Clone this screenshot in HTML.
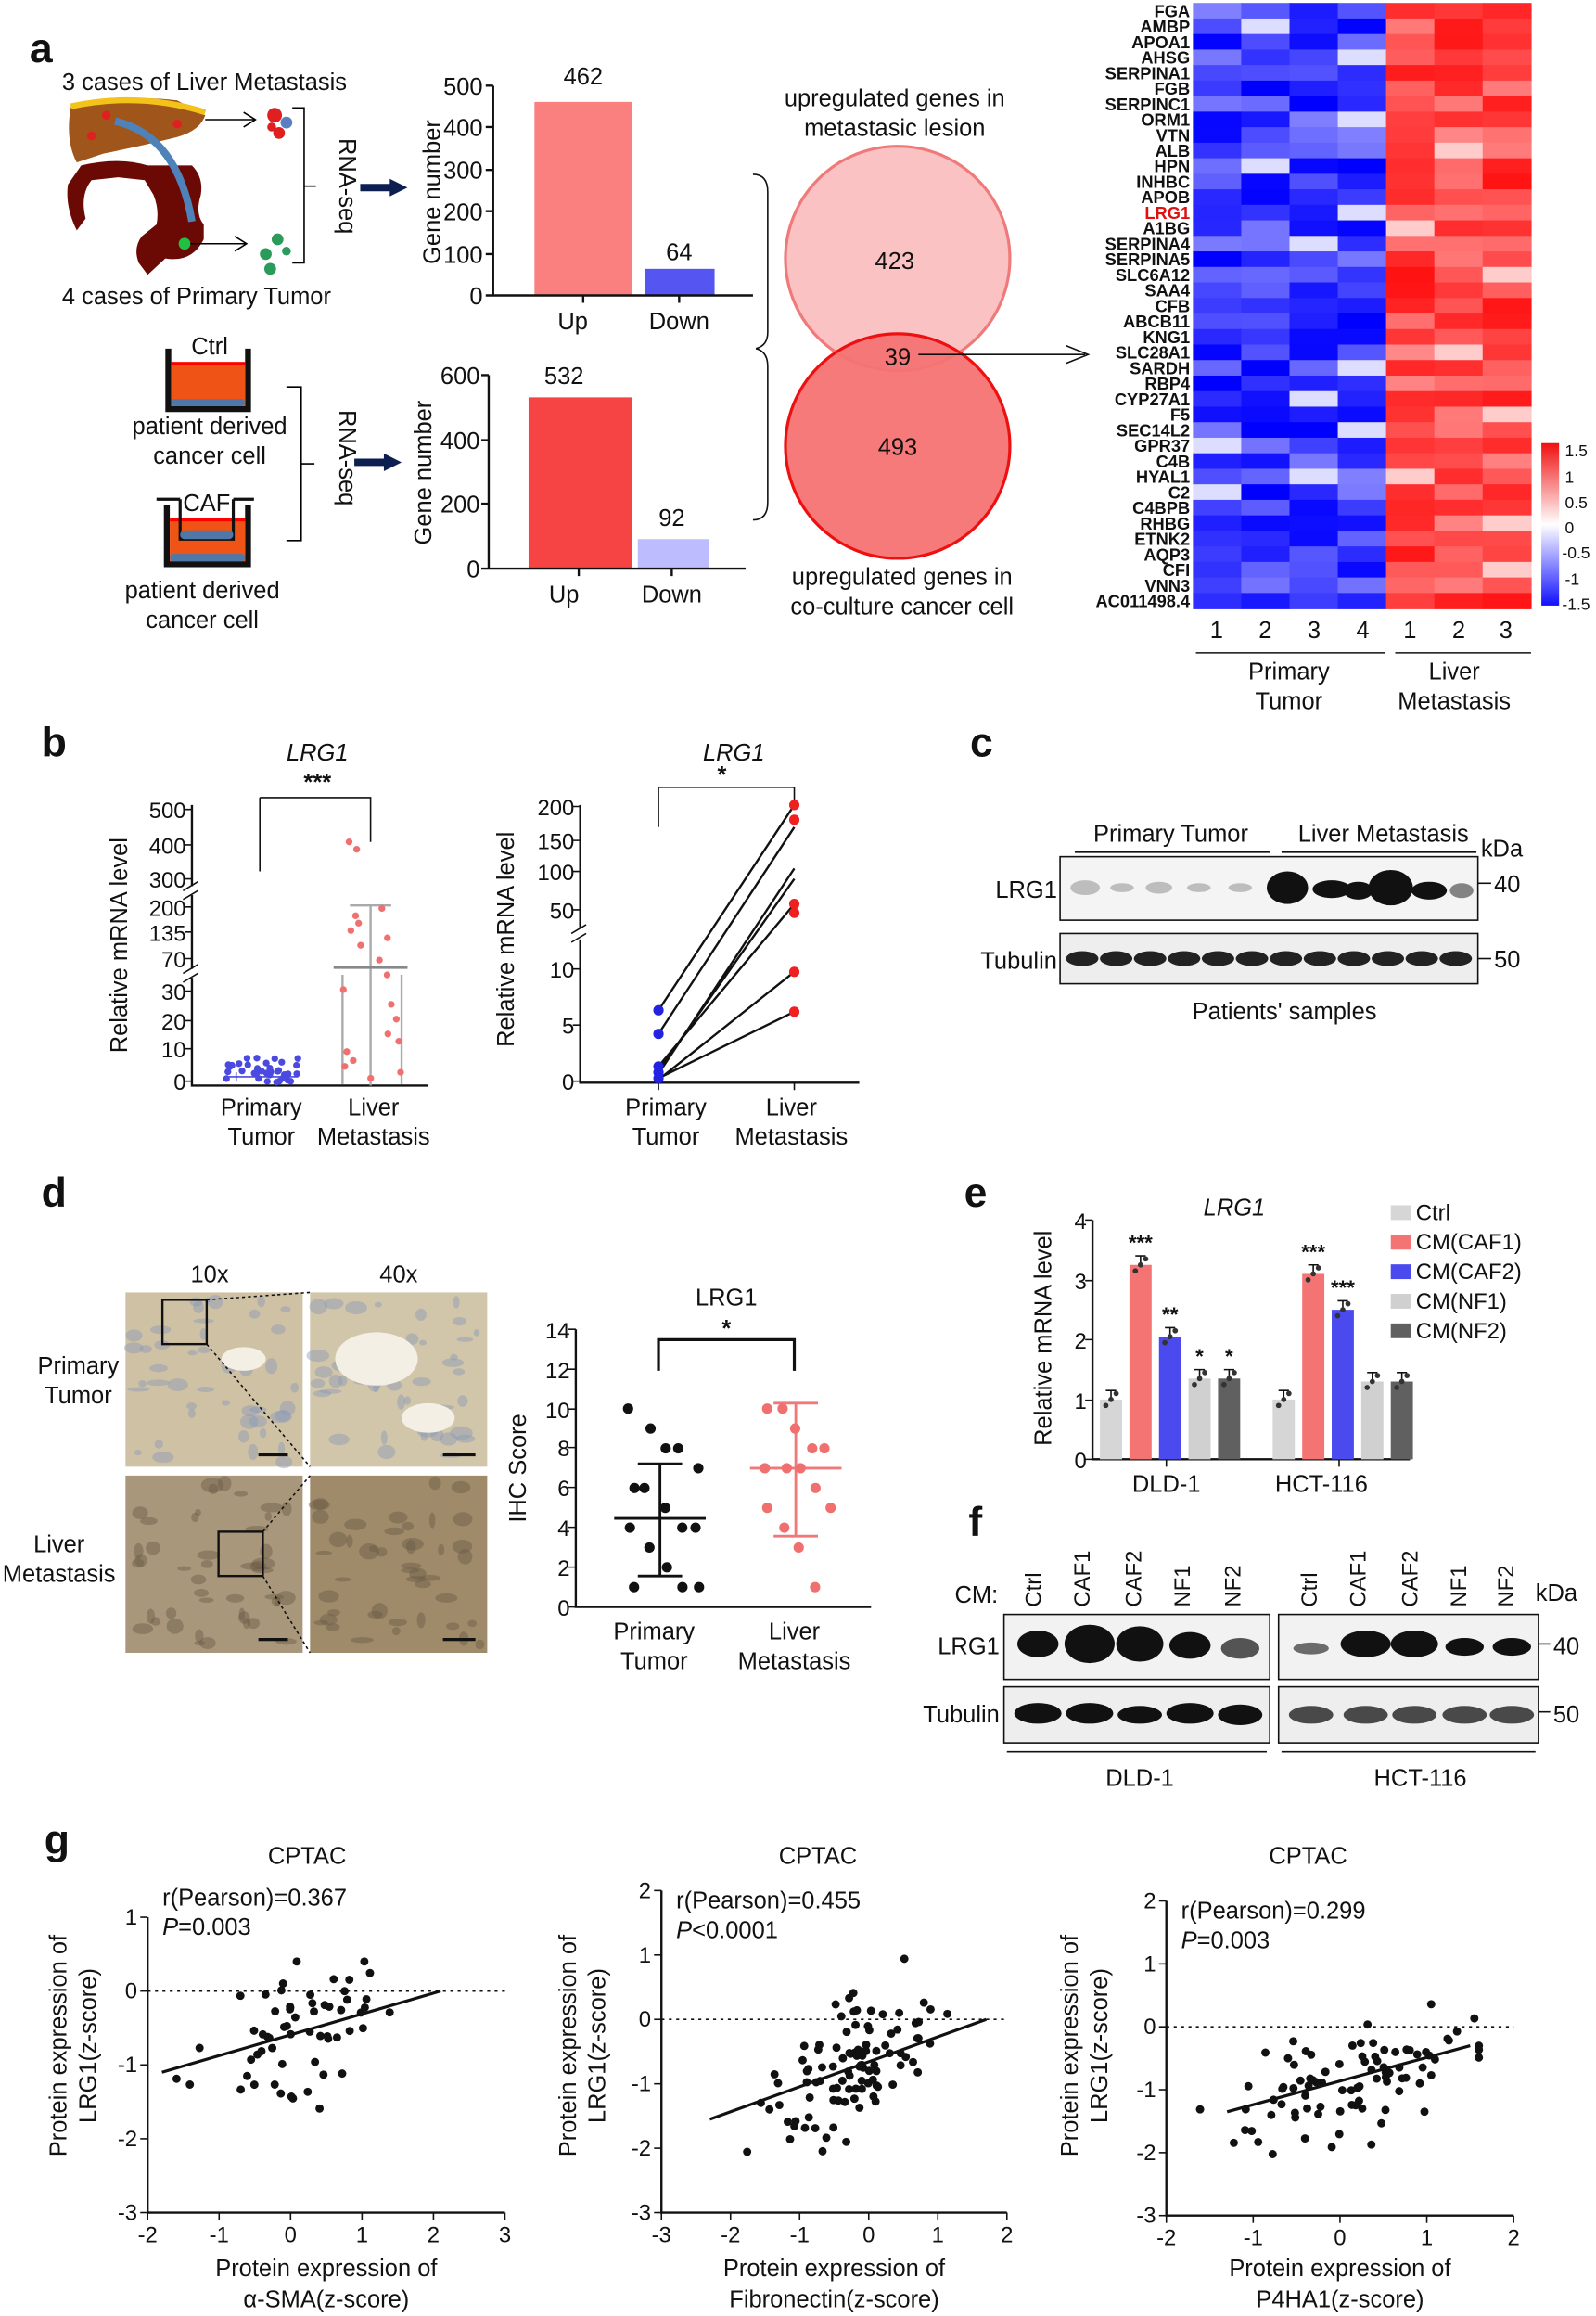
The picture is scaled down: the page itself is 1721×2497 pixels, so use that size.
<!DOCTYPE html>
<html><head><meta charset="utf-8"><style>
html,body{margin:0;padding:0;background:#fff}
svg{display:block}
text{font-family:"Liberation Sans",Arial,sans-serif;fill:#111}
</style></head><body>
<svg id="s" xmlns="http://www.w3.org/2000/svg" width="1721" height="2497" viewBox="0 0 1081 1568" preserveAspectRatio="none">
<rect width="1081" height="1568" fill="#fff"/>
<g font-size="16">
<!-- panel a -->
<text x="20" y="42" font-size="28" font-weight="bold">a</text>
<text x="42" y="61">3 cases of Liver Metastasis</text>
<path d="M48 72 Q90 64 120 68 L139 78 Q135 90 115 94 Q90 100 70 104 L52 110 Q44 95 48 72Z" fill="#a0561a"/>
<path d="M48 72 Q95 62 139 76" stroke="#f3c319" stroke-width="4" fill="none"/>
<path d="M55 112 Q80 106 100 112 L130 112 Q138 120 136 132 Q132 145 138 152 L138 162 Q130 178 112 175 L100 186 L94 178 Q90 168 96 160 L106 152 Q108 142 104 132 L98 122 L80 120 L62 122 Q54 132 58 148 L52 156 Q44 140 46 125Z" fill="#6b0a05"/>
<path d="M78 82 Q120 92 130 150" stroke="#4f82b8" stroke-width="5" fill="none"/>
<circle cx="62" cy="92" r="3" fill="#e02020"/><circle cx="72" cy="78" r="3" fill="#e02020"/><circle cx="120" cy="84" r="3" fill="#e02020"/>
<circle cx="125" cy="165" r="4" fill="#22c040"/>
<path d="M139 81 H172 M165 76 L173 81 L165 86" stroke="#000" fill="none"/>
<path d="M129 165 H166 M159 160 L167 165 L159 170" stroke="#000" fill="none"/>
<circle cx="186" cy="78" r="5" fill="#e02020"/><circle cx="194" cy="83" r="4" fill="#5a7fc0"/><circle cx="189" cy="90" r="4" fill="#e02020"/><circle cx="184" cy="86" r="3" fill="#e02020"/>
<circle cx="180" cy="172" r="4" fill="#2a9b5a"/><circle cx="188" cy="162" r="4" fill="#2a9b5a"/><circle cx="183" cy="182" r="4" fill="#2a9b5a"/><circle cx="194" cy="170" r="3" fill="#2a9b5a"/>
<path d="M198 73 H206 V178 H198 M206 126 H214" stroke="#000" fill="none"/>
<text transform="translate(230,126) rotate(90)" text-anchor="middle">RNA-seq</text>
<path d="M244 127 H266" stroke="#0d1e50" stroke-width="5"/><path d="M264 121 L276 127 L264 133Z" fill="#0d1e50"/>
<text x="42" y="206">4 cases of Primary Tumor</text>

<path d="M114 236 V277 H168 V236" stroke="#111" stroke-width="4" fill="none"/>
<rect x="116" y="246" width="50" height="29" fill="#ef5315"/><rect x="116" y="245" width="50" height="2" fill="#f00"/>
<rect x="116" y="270" width="50" height="5" rx="2.5" fill="#4f78a8"/>
<text x="142" y="240" text-anchor="middle">Ctrl</text>
<text x="142" y="294" text-anchor="middle">patient derived</text>
<text x="142" y="314" text-anchor="middle">cancer cell</text>
<path d="M113 342 V382 H168 V342" stroke="#111" stroke-width="4" fill="none"/>
<rect x="115" y="352" width="51" height="28" fill="#ef5315"/><rect x="115" y="351" width="51" height="2" fill="#f00"/>
<path d="M106 338 H122 M158 338 H172 M122 338 V365 H158 V338" stroke="#111" stroke-width="2" fill="none"/>
<rect x="122" y="359" width="36" height="6" rx="3" fill="#4f78a8"/>
<rect x="115" y="375" width="51" height="5" rx="2.5" fill="#4f78a8"/>
<text x="140" y="346" text-anchor="middle">CAF</text>
<text x="137" y="405" text-anchor="middle">patient derived</text>
<text x="137" y="425" text-anchor="middle">cancer cell</text>
<path d="M194 262 H204 V366 H194 M204 314 H213" stroke="#000" fill="none"/>
<text transform="translate(230,310) rotate(90)" text-anchor="middle">RNA-seq</text>
<path d="M240 313 H262" stroke="#0d1e50" stroke-width="5"/><path d="M260 307 L272 313 L260 319Z" fill="#0d1e50"/>

<!-- bar chart 1 -->
<rect x="362" y="69" width="66" height="131" fill="#fa8080"/>
<rect x="437" y="182" width="47" height="18" fill="#5555f2"/>
<path d="M334 58 V200 H510 M329 58 H334 M329 86 H334 M329 115 H334 M329 143 H334 M329 172 H334 M329 200 H334 M395 200 V205 M460 200 V205" stroke="#111" stroke-width="1.5" fill="none"/>
<g text-anchor="end"><text x="327" y="64">500</text><text x="327" y="92">400</text><text x="327" y="121">300</text><text x="327" y="149">200</text><text x="327" y="178">100</text><text x="327" y="206">0</text></g>
<text transform="translate(298,130) rotate(-90)" text-anchor="middle">Gene number</text>
<text x="395" y="57" text-anchor="middle">462</text><text x="460" y="176" text-anchor="middle">64</text>
<text x="388" y="223" text-anchor="middle">Up</text><text x="460" y="223" text-anchor="middle">Down</text>
<!-- bar chart 2 -->
<rect x="358" y="269" width="70" height="116" fill="#f64343"/>
<rect x="432" y="365" width="48" height="20" fill="#bcbcff"/>
<path d="M331 254 V385 H505 M326 254 H331 M326 298 H331 M326 341 H331 M326 385 H331 M392 385 V390 M455 385 V390" stroke="#111" stroke-width="1.5" fill="none"/>
<g text-anchor="end"><text x="325" y="260">600</text><text x="325" y="304">400</text><text x="325" y="347">200</text><text x="325" y="391">0</text></g>
<text transform="translate(292,320) rotate(-90)" text-anchor="middle">Gene number</text>
<text x="382" y="260" text-anchor="middle">532</text><text x="455" y="356" text-anchor="middle">92</text>
<text x="382" y="408" text-anchor="middle">Up</text><text x="455" y="408" text-anchor="middle">Down</text>
<path d="M510 118 Q520 118 520 130 V225 Q520 234 512 236 Q520 238 520 248 V340 Q520 352 510 352" stroke="#111" fill="none"/>
<!-- venn -->
<text x="606" y="72" text-anchor="middle">upregulated genes in</text>
<text x="606" y="92" text-anchor="middle">metastasic lesion</text>
<circle cx="608" cy="175" r="76" fill="#fac2c2" stroke="#f07a7a" stroke-width="2"/>
<circle cx="608" cy="302" r="76" fill="#f57373" fill-opacity="0.95" stroke="#ee1010" stroke-width="2"/>
<text x="606" y="182" text-anchor="middle">423</text>
<text x="608" y="247" text-anchor="middle">39</text>
<text x="608" y="308" text-anchor="middle">493</text>
<text x="611" y="396" text-anchor="middle">upregulated genes in</text>
<text x="611" y="416" text-anchor="middle">co-culture cancer cell</text>
<path d="M622 240 H735" stroke="#111"/><path d="M722 234 L737 240 L722 246" stroke="#111" fill="none"/>
</g>
<!-- heatmap -->
<g id="hm"></g>
<g id="genes" font-size="11.5" font-weight="bold" text-anchor="end"></g>
<g font-size="16">
<g text-anchor="middle"><text x="824" y="432">1</text><text x="857" y="432">2</text><text x="890" y="432">3</text><text x="923" y="432">4</text><text x="955" y="432">1</text><text x="988" y="432">2</text><text x="1020" y="432">3</text>
<text x="873" y="460">Primary</text><text x="873" y="480">Tumor</text><text x="985" y="460">Liver</text><text x="985" y="480">Metastasis</text></g>
<path d="M810 442 H938 M945 442 H1037" stroke="#111"/>
</g>
<defs><linearGradient id="cb" x1="0" y1="1" x2="0" y2="0"><stop offset="0" stop-color="#1010ff"/><stop offset="0.5" stop-color="#fff"/><stop offset="1" stop-color="#f01010"/></linearGradient></defs>
<rect x="1044" y="300" width="12" height="110" fill="url(#cb)"/>
<g font-size="11"><text x="1060" y="309">1.5</text><text x="1060" y="327">1</text><text x="1060" y="344">0.5</text><text x="1060" y="361">0</text><text x="1058" y="378">-0.5</text><text x="1060" y="396">-1</text><text x="1058" y="413">-1.5</text></g>

<!-- panel b -->
<g font-size="16">
<text x="28" y="512" font-size="28" font-weight="bold">b</text>
<text x="215" y="515" text-anchor="middle" font-style="italic">LRG1</text>
<text x="215" y="535" text-anchor="middle" font-weight="bold">***</text>
<path d="M176 540 V590 M176 540 H251 V570" stroke="#111" fill="none"/>
<path d="M130 545 V735 H290" stroke="#111" stroke-width="1.5" fill="none"/>
<g text-anchor="end" font-size="15"><text x="126" y="554">500</text><text x="126" y="578">400</text><text x="126" y="601">300</text><text x="126" y="620">200</text><text x="126" y="637">135</text><text x="126" y="655">70</text><text x="126" y="677">30</text><text x="126" y="697">20</text><text x="126" y="716">10</text><text x="126" y="738">0</text></g>
<path d="M125 548 H130 M125 572 H130 M125 595 H130 M125 614 H130 M125 631 H130 M125 649 H130 M125 671 H130 M125 691 H130 M125 710 H130 M125 732 H130" stroke="#111"/>
<rect x="126" y="600" width="10" height="6" fill="#fff"/><rect x="126" y="656" width="10" height="6" fill="#fff"/>
<path d="M124 603 L134 597 M124 609 L134 603 M124 659 L134 653 M124 665 L134 659" stroke="#111"/>
<text transform="translate(86,640) rotate(-90)" text-anchor="middle">Relative mRNA level</text>
<path d="M152 729 H202 M160 726 V732" stroke="#4a4ae0"/>
<path d="M226 655 H276 M251 613 V735 M237 613 H265 M232 734 V660 M272 734 V660" stroke="#aaa" stroke-width="1.5" fill="none"/>
<path d="M226 655 H276" stroke="#888" stroke-width="2"/>
<g id="bdots"></g>
<text x="177" y="755" text-anchor="middle">Primary</text><text x="177" y="775" text-anchor="middle">Tumor</text>
<text x="253" y="755" text-anchor="middle">Liver</text><text x="253" y="775" text-anchor="middle">Metastasis</text>

<text x="497" y="515" text-anchor="middle" font-style="italic">LRG1</text>
<text x="489" y="530" text-anchor="middle" font-weight="bold">*</text>
<path d="M446 560 V533 H538 V545" stroke="#111" fill="none"/>
<path d="M393 545 V733 H582" stroke="#111" stroke-width="1.5" fill="none"/>
<g text-anchor="end" font-size="15"><text x="389" y="552">200</text><text x="389" y="575">150</text><text x="389" y="596">100</text><text x="389" y="622">50</text><text x="389" y="662">10</text><text x="389" y="700">5</text><text x="389" y="738">0</text></g>
<path d="M388 546 H393 M388 569 H393 M388 590 H393 M388 616 H393 M388 656 H393 M388 694 H393 M388 732 H393 M446 733 V738 M538 733 V738" stroke="#111"/>
<rect x="389" y="628" width="10" height="8" fill="#fff"/><path d="M387 632 L397 626 M387 638 L397 632" stroke="#111"/>
<text transform="translate(348,636) rotate(-90)" text-anchor="middle">Relative mRNA level</text>
<path d="M446 684 L538 545 M446 700 L538 560 M446 722 L538 612 M446 725 L538 595 M446 727 L538 588 M446 730 L538 685 M446 731 L538 658" stroke="#111" stroke-width="1.5"/>
<g fill="#2222e0"><circle cx="446" cy="684" r="3.5"/><circle cx="446" cy="700" r="3.5"/><circle cx="446" cy="722" r="3.5"/><circle cx="446" cy="726" r="3.5"/><circle cx="446" cy="730" r="3.5"/></g>
<g fill="#ee2020"><circle cx="538" cy="545" r="3.5"/><circle cx="538" cy="555" r="3.5"/><circle cx="538" cy="612" r="3.5"/><circle cx="538" cy="618" r="3.5"/><circle cx="538" cy="658" r="3.5"/><circle cx="538" cy="685" r="3.5"/></g>
<text x="451" y="755" text-anchor="middle">Primary</text><text x="451" y="775" text-anchor="middle">Tumor</text>
<text x="536" y="755" text-anchor="middle">Liver</text><text x="536" y="775" text-anchor="middle">Metastasis</text>

<!-- panel c -->
<text x="657" y="512" font-size="28" font-weight="bold">c</text>
<text x="793" y="570" text-anchor="middle">Primary Tumor</text>
<text x="937" y="570" text-anchor="middle">Liver Metastasis</text>
<path d="M728 577 H860 M868 577 H1000" stroke="#111"/>
<text x="1003" y="580">kDa</text>
<rect x="718" y="580" width="283" height="43" fill="#f4f4f4" stroke="#111"/>
<g fill="#888" opacity="0.5"><ellipse cx="735" cy="601" rx="10" ry="5"/><ellipse cx="760" cy="601" rx="8" ry="3"/><ellipse cx="785" cy="601" rx="9" ry="4"/><ellipse cx="812" cy="601" rx="8" ry="3"/><ellipse cx="840" cy="601" rx="8" ry="3"/></g>
<g fill="#111"><ellipse cx="872" cy="601" rx="14" ry="11"/><ellipse cx="902" cy="602" rx="13" ry="6"/><ellipse cx="920" cy="603" rx="10" ry="6"/><ellipse cx="942" cy="601" rx="15" ry="12"/><ellipse cx="968" cy="603" rx="12" ry="6"/><ellipse cx="990" cy="603" rx="8" ry="5" opacity="0.5"/></g>
<text x="716" y="608" text-anchor="end">LRG1</text>
<path d="M1001 598 H1010" stroke="#111"/><text x="1012" y="604">40</text>
<rect x="718" y="632" width="283" height="34" fill="#eee" stroke="#111"/>
<g id="tub"></g>
<text x="716" y="656" text-anchor="end">Tubulin</text>
<path d="M1001 649 H1010" stroke="#111"/><text x="1012" y="655">50</text>
<text x="870" y="690" text-anchor="middle">Patients' samples</text>

<!-- panel d -->
<text x="28" y="817" font-size="28" font-weight="bold">d</text>
<text x="142" y="868" text-anchor="middle">10x</text><text x="270" y="868" text-anchor="middle">40x</text>
<rect x="85" y="875" width="120" height="118" fill="#cfc2a4"/>
<rect x="210" y="875" width="120" height="118" fill="#d2c6aa"/>
<rect x="85" y="999" width="120" height="120" fill="#a8977a"/>
<rect x="210" y="999" width="120" height="120" fill="#9f8a6a"/>
<g id="tex"></g>
<rect x="110" y="880" width="30" height="30" fill="none" stroke="#111" stroke-width="1.5"/>
<rect x="148" y="1037" width="30" height="30" fill="none" stroke="#111" stroke-width="1.5"/>
<path d="M140 880 L210 875 M140 910 L210 993 M178 1037 L210 999 M178 1067 L210 1119" stroke="#111" stroke-dasharray="2,2"/>
<path d="M175 985 H195 M300 985 H322 M175 1110 H195 M300 1110 H322" stroke="#111" stroke-width="2"/>
<text x="53" y="930" text-anchor="middle">Primary</text><text x="53" y="950" text-anchor="middle">Tumor</text>
<text x="40" y="1051" text-anchor="middle">Liver</text><text x="40" y="1071" text-anchor="middle">Metastasis</text>
<text x="492" y="884" text-anchor="middle">LRG1</text>
<text x="492" y="905" text-anchor="middle" font-weight="bold">*</text>
<path d="M446 928 V907 H538 V928" stroke="#111" stroke-width="2" fill="none"/>
<path d="M390 900 V1088 H590" stroke="#111" stroke-width="1.5" fill="none"/>
<g text-anchor="end" font-size="15"><text x="386" y="906">14</text><text x="386" y="933">12</text><text x="386" y="960">10</text><text x="386" y="986">8</text><text x="386" y="1013">6</text><text x="386" y="1040">4</text><text x="386" y="1067">2</text><text x="386" y="1094">0</text></g>
<path d="M385 900 H390 M385 927 H390 M385 954 H390 M385 980 H390 M385 1007 H390 M385 1034 H390 M385 1061 H390 M385 1088 H390" stroke="#111"/>
<text transform="translate(356,994) rotate(-90)" text-anchor="middle">IHC Score</text>
<path d="M416 1028 H478 M447 991 V1067 M432 991 H462 M432 1067 H462" stroke="#111" stroke-width="1.8"/>
<path d="M508 994 H570 M539 950 V1040 M524 950 H554 M524 1040 H554" stroke="#f07878" stroke-width="1.8"/>
<g id="ddots"></g>
<text x="443" y="1110" text-anchor="middle">Primary</text><text x="443" y="1130" text-anchor="middle">Tumor</text>
<text x="538" y="1110" text-anchor="middle">Liver</text><text x="538" y="1130" text-anchor="middle">Metastasis</text>

<!-- panel e -->
<text x="653" y="817" font-size="28" font-weight="bold">e</text>
<text x="836" y="823" text-anchor="middle" font-style="italic">LRG1</text>
<path d="M740 826 V988 H955" stroke="#111" stroke-width="1.5" fill="none"/>
<g text-anchor="end" font-size="15"><text x="736" y="832">4</text><text x="736" y="873">3</text><text x="736" y="913">2</text><text x="736" y="954">1</text><text x="736" y="994">0</text></g>
<path d="M735 826 H740 M735 867 H740 M735 907 H740 M735 948 H740 M735 988 H740 M790 988 V993 M907 988 V993" stroke="#111"/>
<text transform="translate(712,906) rotate(-90)" text-anchor="middle">Relative mRNA level</text>
<g id="ebars"></g>
<text x="790" y="1010" text-anchor="middle">DLD-1</text><text x="895" y="1010" text-anchor="middle">HCT-116</text>
<g font-size="15">
<rect x="942" y="816" width="14" height="10" fill="#d6d6d6"/><text x="959" y="826">Ctrl</text>
<rect x="942" y="836" width="14" height="10" fill="#f47474"/><text x="959" y="846">CM(CAF1)</text>
<rect x="942" y="856" width="14" height="10" fill="#4a4aef"/><text x="959" y="866">CM(CAF2)</text>
<rect x="942" y="876" width="14" height="10" fill="#d0d0d0"/><text x="959" y="886">CM(NF1)</text>
<rect x="942" y="896" width="14" height="10" fill="#606060"/><text x="959" y="906">CM(NF2)</text>
</g>

<!-- panel f -->
<text x="656" y="1040" font-size="28" font-weight="bold">f</text>
<text x="676" y="1085" text-anchor="end">CM:</text>
<g font-size="15"><text transform="translate(705,1088) rotate(-90)">Ctrl</text><text transform="translate(738,1088) rotate(-90)">CAF1</text><text transform="translate(773,1088) rotate(-90)">CAF2</text><text transform="translate(806,1088) rotate(-90)">NF1</text><text transform="translate(840,1088) rotate(-90)">NF2</text>
<text transform="translate(892,1088) rotate(-90)">Ctrl</text><text transform="translate(925,1088) rotate(-90)">CAF1</text><text transform="translate(960,1088) rotate(-90)">CAF2</text><text transform="translate(993,1088) rotate(-90)">NF1</text><text transform="translate(1025,1088) rotate(-90)">NF2</text></g>
<text x="1040" y="1084">kDa</text>
<rect x="680" y="1093" width="180" height="44" fill="#f2f2f2" stroke="#111"/>
<rect x="866" y="1093" width="176" height="44" fill="#f2f2f2" stroke="#111"/>
<g fill="#111"><ellipse cx="703" cy="1113" rx="14" ry="9"/><ellipse cx="738" cy="1113" rx="17" ry="13"/><ellipse cx="772" cy="1113" rx="16" ry="12"/><ellipse cx="806" cy="1114" rx="14" ry="9"/><ellipse cx="840" cy="1116" rx="13" ry="7" opacity="0.7"/>
<ellipse cx="888" cy="1116" rx="12" ry="4" opacity="0.6"/><ellipse cx="925" cy="1113" rx="17" ry="9"/><ellipse cx="958" cy="1113" rx="16" ry="9"/><ellipse cx="992" cy="1115" rx="13" ry="6"/><ellipse cx="1024" cy="1115" rx="13" ry="6"/></g>
<text x="677" y="1120" text-anchor="end">LRG1</text>
<path d="M1042 1113 H1050" stroke="#111"/><text x="1052" y="1120">40</text>
<rect x="680" y="1142" width="180" height="38" fill="#eee" stroke="#111"/>
<rect x="866" y="1142" width="176" height="38" fill="#eee" stroke="#111"/>
<g fill="#111"><ellipse cx="703" cy="1160" rx="16" ry="7"/><ellipse cx="738" cy="1160" rx="16" ry="7"/><ellipse cx="772" cy="1161" rx="15" ry="6"/><ellipse cx="806" cy="1160" rx="16" ry="7"/><ellipse cx="840" cy="1161" rx="15" ry="7"/>
<ellipse cx="888" cy="1161" rx="15" ry="6" opacity="0.75"/><ellipse cx="925" cy="1161" rx="15" ry="6" opacity="0.75"/><ellipse cx="958" cy="1161" rx="15" ry="6" opacity="0.75"/><ellipse cx="992" cy="1161" rx="15" ry="6" opacity="0.75"/><ellipse cx="1024" cy="1161" rx="15" ry="6" opacity="0.75"/></g>
<text x="677" y="1166" text-anchor="end">Tubulin</text>
<path d="M1042 1159 H1050" stroke="#111"/><text x="1052" y="1166">50</text>
<path d="M682 1186 H858 M868 1186 H1040" stroke="#111"/>
<text x="772" y="1209" text-anchor="middle">DLD-1</text><text x="962" y="1209" text-anchor="middle">HCT-116</text>

<!-- panel g -->
<text x="30" y="1255" font-size="28" font-weight="bold">g</text>
<g id="gplots"></g>
</g>
</svg>
<script>
var NS="http://www.w3.org/2000/svg";
function el(p,t,a,txt){var e=document.createElementNS(NS,t);for(var k in a)e.setAttribute(k,a[k]);if(txt!=null)e.textContent=txt;p.appendChild(e);return e;}
var seed=7;function rnd(){seed=(seed*16807)%2147483647;return (seed-1)/2147483646;}
function gauss(){return (rnd()+rnd()+rnd()+rnd()-2)*1.7;}
function col(v){v=Math.max(-1.5,Math.min(1.5,v))/1.5;var r,g,b;if(v<0){r=g=Math.round(255*(1+v));b=255;}else{r=255;g=b=Math.round(255*(1-v));}return "rgb("+r+","+g+","+b+")";}
var genes=["FGA","AMBP","APOA1","AHSG","SERPINA1","FGB","SERPINC1","ORM1","VTN","ALB","HPN","INHBC","APOB","LRG1","A1BG","SERPINA4","SERPINA5","SLC6A12","SAA4","CFB","ABCB11","KNG1","SLC28A1","SARDH","RBP4","CYP27A1","F5","SEC14L2","GPR37","C4B","HYAL1","C2","C4BPB","RHBG","ETNK2","AQP3","CFI","VNN3","AC011498.4"];
var hm=document.getElementById("hm"),gn=document.getElementById("genes");
var x0=808,cw=32.7,rh=410/genes.length;
genes.forEach(function(g,i){
 var y=2+i*rh;
 for(var c=0;c<7;c++){var v=c<4?-0.75-rnd()*0.8:0.7+rnd()*0.7; if(rnd()<0.06)v=c<4?-0.2:0.3;
  el(hm,"rect",{x:x0+c*cw,y:y,width:cw+0.5,height:rh+0.5,fill:col(v)});}
 var t=el(gn,"text",{x:806,y:y+rh-1},g); if(g=="LRG1")t.setAttribute("style","fill:#e01010");
});
var bd=document.getElementById("bdots");
for(var i=0;i<38;i++){el(bd,"circle",{cx:152+rnd()*50,cy:716+rnd()*17,r:2.3,fill:"#4a4ae0"});}
var ly=[570,575,615,620,625,630,635,640,650,660,670,680,690,700,705,712,718,722,726,730];
ly.forEach(function(y){el(bd,"circle",{cx:232+rnd()*40,cy:y,r:2.3,fill:"#f07070"});});
var tb=document.getElementById("tub");for(var i=0;i<12;i++)el(tb,"ellipse",{cx:733+i*23,cy:649,rx:11,ry:5,fill:"#222"});
var tx=document.getElementById("tex");
[[85,875,"#8a98b8"],[210,875,"#8a98b8"],[85,999,"#6a5a48"],[210,999,"#6a5a48"]].forEach(function(p){
 for(var i=0;i<45;i++)el(tx,"ellipse",{cx:p[0]+5+rnd()*110,cy:p[1]+5+rnd()*110,rx:2+rnd()*6,ry:1.5+rnd()*4,fill:p[2],opacity:0.45});
});
el(tx,"ellipse",{cx:165,cy:920,rx:15,ry:8,fill:"#f4efe4"});el(tx,"ellipse",{cx:255,cy:920,rx:28,ry:18,fill:"#f4efe4"});el(tx,"ellipse",{cx:290,cy:960,rx:18,ry:10,fill:"#f4efe4"});
var dd=document.getElementById("ddots");
function ys(v){return 1088-v*13.43;}
[10,9,8,8,7,6,6,5,4,4,4,3,2,1,1,1].forEach(function(v,i){el(dd,"circle",{cx:425+(i%5)*11+rnd()*5,cy:ys(v),r:3.5,fill:"#111"});});
[10,10,9,8,8,7,7,7,6,5,5,4,3,1].forEach(function(v,i){el(dd,"circle",{cx:518+(i%5)*10+rnd()*5,cy:ys(v),r:3.5,fill:"#f07070"});});
var eb=document.getElementById("ebars");
function ey(v){return 988-v*40.5;}
var cols=["#d6d6d6","#f47474","#4a4aef","#d0d0d0","#606060"];
var vals=[[1,3.25,2.05,1.35,1.35],[1.0,3.1,2.5,1.3,1.3]];
var stars=[["","***","**","*","*"],["","***","***","",""]];
[745,862].forEach(function(bx,gi){for(var j=0;j<5;j++){var v=vals[gi][j],x=bx+j*20;
 el(eb,"rect",{x:x,y:ey(v),width:15,height:988-ey(v),fill:cols[j]});
 el(eb,"path",{d:"M"+(x+7.5)+" "+ey(v+0.15)+" V"+ey(v)+" M"+(x+4)+" "+ey(v+0.15)+" H"+(x+11),stroke:"#111"});
 for(var k=0;k<3;k++)el(eb,"circle",{cx:x+4+k*3.5,cy:ey(v-0.1+k*0.1),r:1.8,fill:"#333"});
 if(stars[gi][j])el(eb,"text",{x:x+7.5,y:ey(v+0.2)-2,"text-anchor":"middle","font-size":"14","font-weight":"bold"},stars[gi][j]);}});
var gp=document.getElementById("gplots");
var plots=[
 {xa:100,ya:1498,xs:48.4,xmin:-2,xmax:3,ys:50,ymin:-3,ymax:1,line:[-1.8,-1.1,2.1,0],r:"0.367",p:"=0.003",n:60,tx:208,xl:"α-SMA(z-score)",ay:55,xc:0},
 {xa:448,ya:1498,xs:46.8,xmin:-3,xmax:2,ys:43.6,ymin:-3,ymax:2,line:[-2.3,-1.55,1.7,0],r:"0.455",p:"<0.0001",n:100,tx:554,xl:"Fibronectin(z-score)",ay:400,xc:-0.2},
 {xa:790,ya:1500,xs:58.8,xmin:-2,xmax:2,ys:42.6,ymin:-3,ymax:2,line:[-1.3,-1.35,1.5,-0.3],r:"0.299",p:"=0.003",n:90,tx:886,xl:"P4HA1(z-score)",ay:740,xc:0.15}
];
plots.forEach(function(P){
 function X(v){return P.xa+(v-P.xmin)*P.xs;} function Y(v){return P.ya-(v-P.ymin)*P.ys;}
 var xe=X(P.xmax),yt=Y(P.ymax);
 el(gp,"path",{d:"M"+P.xa+" "+yt+" V"+P.ya+" H"+xe,stroke:"#111","stroke-width":1.5,fill:"none"});
 for(var v=P.xmin;v<=P.xmax;v++){el(gp,"path",{d:"M"+X(v)+" "+P.ya+" V"+(P.ya+5),stroke:"#111"});el(gp,"text",{x:X(v),y:P.ya+20,"text-anchor":"middle","font-size":"15"},v<0?"-"+(-v):""+v);}
 for(var v=P.ymin;v<=P.ymax;v++){el(gp,"path",{d:"M"+(P.xa-5)+" "+Y(v)+" H"+P.xa,stroke:"#111"});el(gp,"text",{x:P.xa-7,y:Y(v)+5,"text-anchor":"end","font-size":"15"},v<0?"-"+(-v):""+v);}
 el(gp,"path",{d:"M"+P.xa+" "+Y(0)+" H"+xe,stroke:"#111","stroke-dasharray":"2,3"});
 for(var i=0;i<P.n;i++){var xv=gauss()*0.65+P.xc;var sl=(P.line[3]-P.line[1])/(P.line[2]-P.line[0]);var yv=P.line[1]+(xv-P.line[0])*sl+gauss()*0.5;
  xv=Math.max(P.xmin+0.3,Math.min(P.xmax-0.4,xv));yv=Math.max(P.ymin+0.5,Math.min(P.ymax-0.6,yv));
  el(gp,"circle",{cx:X(xv),cy:Y(yv),r:2.8,fill:"#111"});}
 el(gp,"path",{d:"M"+X(P.line[0])+" "+Y(P.line[1])+" L"+X(P.line[2])+" "+Y(P.line[3]),stroke:"#111","stroke-width":2});
 el(gp,"text",{x:P.tx,y:1262,"text-anchor":"middle"},"CPTAC");
 el(gp,"text",{x:P.xa+10,y:yt-8+(P.ymax==1?0:20)},"r(Pearson)="+P.r);
 var t=el(gp,"text",{x:P.xa+10,y:yt+12+(P.ymax==1?0:20)});el(t,"tspan",{"font-style":"italic"},"P");el(t,"tspan",{},P.p);
 el(gp,"text",{x:(P.xa+xe)/2,y:1541,"text-anchor":"middle"},"Protein expression of");
 el(gp,"text",{x:(P.xa+xe)/2,y:1562,"text-anchor":"middle"},P.xl);
 el(gp,"text",{transform:"translate("+(P.ay-10)+",1385) rotate(-90)","text-anchor":"middle"},"Protein expression of");
 el(gp,"text",{transform:"translate("+(P.ay+10)+",1385) rotate(-90)","text-anchor":"middle"},"LRG1(z-score)");
});
</script>
</body></html>
